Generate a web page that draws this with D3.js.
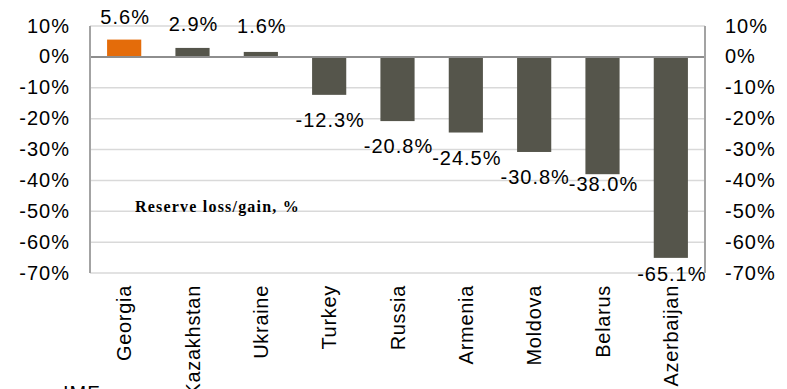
<!DOCTYPE html>
<html>
<head>
<meta charset="utf-8">
<script src="https://cdn.jsdelivr.net/npm/d3@7"></script>
<style>
  html, body { margin: 0; padding: 0; background: #fff; }
  svg { display: block; }
  .lbl { font-family: "Liberation Sans", Arial, Helvetica, sans-serif; font-size: 20px; letter-spacing: 1px; fill: #000; }
  .cat { letter-spacing: 0.7px; }
  .title { font-family: "Liberation Serif", "Times New Roman", serif; font-weight: bold; font-size: 16px; letter-spacing: 1.2px; fill: #000; }
</style>
</head>
<body>
<script>
// Reserve loss/gain by country, percent
const countries = ["Georgia", "Kazakhstan", "Ukraine", "Turkey", "Russia", "Armenia", "Moldova", "Belarus", "Azerbaijan"];
const reserveChange = [5.6, 2.9, 1.6, -12.3, -20.8, -24.5, -30.8, -38.0, -65.1];
const yTicks = [10, 0, -10, -20, -30, -40, -50, -60, -70];
const highlighted = ["Georgia"];
const sourceNote = "IMF";
const chartTitle = "Reserve loss/gain, %";

// small manual label shifts (px) for crowded labels
const labelShift = { Georgia: 1, Ukraine: -2, Belarus: -15, Azerbaijan: -9 };

const W = 787, H = 389;
const plot = { left: 90, right: 705, top: 26, bottom: 273 };

const svg = d3.select("body").append("svg").attr("width", W).attr("height", H);

const x = d3.scaleBand().domain(countries).range([plot.left, plot.right])
  .paddingInner(0.5).paddingOuter(0.25);
const y = d3.scaleLinear().domain([-70, 10]).range([plot.bottom, plot.top]);

// gridlines
svg.append("g").selectAll("line").data(yTicks.filter(d => d !== 0)).join("line")
  .attr("x1", plot.left).attr("x2", plot.right)
  .attr("y1", d => y(d)).attr("y2", d => y(d))
  .attr("stroke", "#d9d9d9").attr("stroke-width", 1.5);

// bars
svg.append("g").selectAll("rect").data(countries).join("rect")
  .attr("x", d => x(d))
  .attr("width", x.bandwidth())
  .attr("y", (d, i) => y(Math.max(0, reserveChange[i])))
  .attr("height", (d, i) => Math.abs(y(reserveChange[i]) - y(0)))
  .attr("fill", d => highlighted.includes(d) ? "#e46c0a" : "#55554b");

// zero line and side axes
svg.append("line").attr("x1", plot.left).attr("x2", plot.right)
  .attr("y1", y(0)).attr("y2", y(0)).attr("stroke", "#8e8e8e").attr("stroke-width", 2);
svg.append("line").attr("x1", plot.left).attr("x2", plot.left)
  .attr("y1", plot.top).attr("y2", plot.bottom).attr("stroke", "#a3a3a3").attr("stroke-width", 2);
svg.append("line").attr("x1", plot.right).attr("x2", plot.right)
  .attr("y1", plot.top).attr("y2", plot.bottom).attr("stroke", "#a3a3a3").attr("stroke-width", 2);

// left and right tick labels
const fmt = d => d + "%";
svg.append("g").selectAll("text").data(yTicks).join("text")
  .attr("class", "lbl").attr("text-anchor", "end")
  .attr("x", 70).attr("y", d => y(d) + 6.5).text(fmt);
svg.append("g").selectAll("text").data(yTicks).join("text")
  .attr("class", "lbl").attr("text-anchor", "start")
  .attr("x", 725).attr("y", d => y(d) + 6.5).text(fmt);

// value labels
svg.append("g").selectAll("text").data(countries).join("text")
  .attr("class", "lbl").attr("text-anchor", "middle")
  .attr("x", d => x(d) + x.bandwidth() / 2 + 1)
  .attr("y", (d, i) => {
    const v = reserveChange[i];
    const base = v >= 0 ? y(v) - 17 : y(v) + 32;
    return base + (labelShift[d] || 0);
  })
  .text((d, i) => reserveChange[i].toFixed(1) + "%");

// category labels (rotated)
svg.append("g").selectAll("text").data(countries).join("text")
  .attr("class", "lbl cat").attr("text-anchor", "end")
  .attr("transform", d => `translate(${x(d) + x.bandwidth() / 2 + 7},285) rotate(-90)`)
  .text(d => d);

// in-plot title
svg.append("text").attr("class", "title").attr("x", 135).attr("y", 212).text(chartTitle);

// source note
svg.append("text").attr("class", "lbl").attr("x", 63).attr("y", 400).text(sourceNote);
</script>
</body>
</html>
